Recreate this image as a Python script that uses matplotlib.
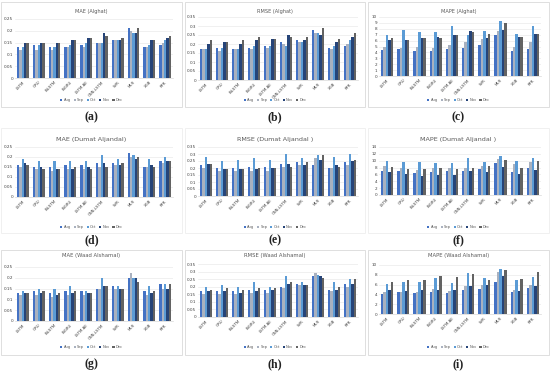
import numpy as np
import matplotlib
matplotlib.use("Agg")
import matplotlib.pyplot as plt
from matplotlib.patches import Rectangle

# models and months
models = ["LSTM", "GRU", "BiLSTM", "BiGRU", "LSTM-AE", "CNN-LSTM", "SVR", "MLR", "XGB", "RFR"]
months = ["Aug", "Sep", "Oct", "Nov", "Dec"]
colors = ["#4472C4", "#A9B1BF", "#5B9BD5", "#264478", "#636363"]

# each row = one model, columns = Aug..Dec
mae_alghat = [[0.13, 0.12, 0.13, 0.15, 0.15], [0.14, 0.12, 0.14, 0.15, 0.15],
              [0.13, 0.12, 0.13, 0.15, 0.15], [0.13, 0.13, 0.14, 0.16, 0.16],
              [0.14, 0.13, 0.15, 0.17, 0.17], [0.15, 0.15, 0.15, 0.19, 0.18],
              [0.16, 0.16, 0.16, 0.16, 0.17], [0.21, 0.20, 0.19, 0.19, 0.21],
              [0.13, 0.13, 0.14, 0.16, 0.16], [0.14, 0.15, 0.16, 0.17, 0.18]]
rmse_alghat = [[0.17, 0.17, 0.17, 0.20, 0.22], [0.18, 0.16, 0.18, 0.21, 0.21],
               [0.17, 0.17, 0.17, 0.20, 0.22], [0.18, 0.17, 0.19, 0.22, 0.24],
               [0.19, 0.18, 0.19, 0.23, 0.23], [0.21, 0.20, 0.19, 0.25, 0.24],
               [0.22, 0.21, 0.21, 0.22, 0.24], [0.28, 0.26, 0.26, 0.25, 0.29],
               [0.18, 0.17, 0.19, 0.21, 0.23], [0.19, 0.20, 0.22, 0.24, 0.26]]
mape_alghat = [[4.4, 5.0, 7.0, 6.1, 6.5], [4.5, 4.7, 7.8, 6.1, 6.1],
               [4.2, 4.9, 7.4, 6.4, 6.4], [4.2, 4.8, 7.4, 6.6, 6.4],
               [4.6, 5.2, 8.5, 6.9, 6.9], [4.8, 5.8, 7.0, 7.6, 7.5],
               [5.2, 6.2, 7.6, 6.5, 7.2], [6.9, 7.6, 9.3, 7.8, 9.0],
               [4.3, 5.0, 7.2, 6.6, 6.6], [4.6, 5.7, 8.4, 7.2, 7.2]]
mae_dumat = [[0.16, 0.15, 0.19, 0.17, 0.16], [0.15, 0.14, 0.18, 0.15, 0.14],
             [0.15, 0.13, 0.18, 0.14, 0.14], [0.16, 0.14, 0.18, 0.14, 0.15],
             [0.16, 0.14, 0.18, 0.15, 0.14], [0.17, 0.15, 0.21, 0.17, 0.15],
             [0.17, 0.16, 0.19, 0.16, 0.17], [0.22, 0.20, 0.21, 0.19, 0.20],
             [0.15, 0.15, 0.19, 0.16, 0.15], [0.18, 0.17, 0.20, 0.18, 0.18]]
rmse_dumat = [[0.22, 0.20, 0.28, 0.23, 0.23], [0.20, 0.18, 0.25, 0.19, 0.19],
              [0.20, 0.18, 0.26, 0.19, 0.19], [0.21, 0.18, 0.27, 0.19, 0.20],
              [0.21, 0.18, 0.26, 0.20, 0.20], [0.23, 0.21, 0.30, 0.23, 0.21],
              [0.24, 0.22, 0.27, 0.22, 0.24], [0.22, 0.27, 0.29, 0.26, 0.29],
              [0.20, 0.20, 0.28, 0.22, 0.21], [0.24, 0.22, 0.30, 0.25, 0.26]]
mape_dumat = [[7.1, 8.5, 9.8, 6.7, 8.2], [6.9, 8.0, 9.6, 6.0, 7.7],
              [6.5, 7.4, 9.6, 5.6, 7.5], [6.7, 7.8, 9.3, 5.8, 7.8],
              [7.1, 7.9, 9.2, 5.9, 7.5], [6.9, 7.9, 10.8, 6.9, 7.9],
              [7.5, 8.5, 9.7, 6.6, 8.5], [9.3, 10.6, 11.4, 8.3, 10.3],
              [6.8, 9.1, 9.9, 6.2, 8.0], [8.0, 9.5, 10.8, 7.2, 9.8]]
mae_waad = [[0.13, 0.12, 0.14, 0.13, 0.13], [0.14, 0.12, 0.15, 0.13, 0.14],
            [0.13, 0.11, 0.15, 0.12, 0.13], [0.14, 0.12, 0.16, 0.13, 0.14],
            [0.14, 0.12, 0.14, 0.13, 0.13], [0.15, 0.15, 0.20, 0.16, 0.16],
            [0.16, 0.15, 0.16, 0.15, 0.15], [0.20, 0.22, 0.20, 0.20, 0.18],
            [0.14, 0.12, 0.16, 0.13, 0.14], [0.17, 0.15, 0.17, 0.15, 0.17]]
rmse_waad = [[0.17, 0.15, 0.20, 0.17, 0.18], [0.17, 0.15, 0.21, 0.17, 0.19],
             [0.17, 0.15, 0.20, 0.16, 0.18], [0.18, 0.16, 0.23, 0.17, 0.19],
             [0.18, 0.16, 0.20, 0.18, 0.19], [0.20, 0.19, 0.27, 0.22, 0.23],
             [0.22, 0.21, 0.23, 0.21, 0.21], [0.27, 0.29, 0.28, 0.27, 0.26],
             [0.18, 0.17, 0.23, 0.18, 0.20], [0.22, 0.20, 0.25, 0.22, 0.25]]
mape_waad = [[4.1, 4.5, 6.2, 4.9, 6.6], [4.4, 4.5, 6.6, 4.7, 7.0],
             [4.2, 4.4, 6.5, 4.9, 7.0], [4.5, 5.1, 7.4, 4.9, 7.8],
             [4.3, 4.7, 6.4, 5.0, 7.5], [5.0, 5.8, 8.3, 5.8, 8.1],
             [5.2, 5.9, 7.3, 5.9, 7.0], [6.6, 8.6, 9.2, 7.7, 9.0],
             [4.5, 4.8, 6.9, 4.7, 7.1], [5.4, 6.0, 7.5, 5.8, 8.5]]

W, H = 550, 372
fig = plt.figure(figsize=(5.5, 3.72), dpi=100)


def box(x0, y0, x1, y1):
    # pixel box (top-left origin) -> figure fraction
    return [x0 / W, 1 - y1 / H, (x1 - x0) / W, (y1 - y0) / H]


def panel(data, title, ticks, frame, plot, label, title_y, leg_y, lab_y, fs=4.0, frame_col="#D9D9D9"):
    # light chart-area frame like in Excel
    fx0, fy0, fx1, fy1 = frame
    fig.patches.append(Rectangle((fx0 / W, 1 - fy1 / H), (fx1 - fx0) / W, (fy1 - fy0) / H,
                                 transform=fig.transFigure, fill=False, ec=frame_col, lw=0.6))
    ax = fig.add_axes(box(*plot))
    vals = np.array(data)
    x = np.arange(len(models))
    bw = 0.15
    for i, m in enumerate(months):
        ax.bar(x + (i - 2) * bw, vals[:, i], bw, color=colors[i], label=m, zorder=3)
    ax.set_ylim(ticks[0], ticks[-1])
    ax.set_yticks(ticks)
    ax.set_yticklabels([f"{t:g}" for t in ticks], fontsize=3, color="#404040")
    ax.set_xlim(-0.5, len(models) - 0.5)
    ax.set_xticks(x)
    ax.set_xticklabels(models, rotation=45, ha="right", rotation_mode="anchor",
                       fontsize=2.8, color="#404040")
    ax.tick_params(length=0, pad=1.5)
    ax.grid(axis="y", color="#E5E5E5", lw=0.4, zorder=0)
    for s in ["top", "right", "left"]:
        ax.spines[s].set_visible(False)
    ax.spines["bottom"].set_color("#D9D9D9")
    ax.spines["bottom"].set_linewidth(0.5)
    cx = (fx0 + fx1) / 2 / W
    fig.text(cx, 1 - title_y / H, title, ha="center", va="center", fontsize=fs, color="#595959")
    handles, labels = ax.get_legend_handles_labels()
    fig.legend(handles, labels, loc="center", bbox_to_anchor=(cx, 1 - leg_y / H), ncol=5,
               fontsize=2.6, frameon=False, handlelength=0.6, handleheight=0.6,
               handletextpad=0.3, columnspacing=0.8, labelcolor="#595959")
    fig.text(cx, 1 - lab_y / H, label, ha="center", va="center", fontsize=8.5,
             family="Liberation Serif", weight="bold", color="#222222")


t25 = [0, 0.05, 0.1, 0.15, 0.2, 0.25]
t35 = [0, 0.05, 0.1, 0.15, 0.2, 0.25, 0.3, 0.35]
t10 = list(range(11))
t14 = list(range(0, 15, 2))
t10b = list(range(0, 11, 2))

# row 1
panel(mae_alghat, "MAE (Alghat)", t25, (1, 2, 182, 107), (15, 19, 173, 78), "(a)", 11, 100, 117, 3.6)
panel(rmse_alghat, "RMSE (Alghat)", t35, (185, 2, 365, 107), (198, 17, 358, 80), "(b)", 11, 100, 117, 3.6)
panel(mape_alghat, "MAPE (Alghat)", t10, (368, 2, 549, 107), (379, 17, 541, 76), "(c)", 11, 100, 117, 3.6)
# row 2
panel(mae_dumat, "MAE (Dumat Aljandal)", t25, (1, 128, 182, 233), (15, 147, 173, 197), "(d)", 139, 227, 240, 4.6, "#EEEEEE")
panel(rmse_dumat, "RMSE (Dumat Aljandal )", t35, (185, 128, 365, 233), (198, 147, 358, 196), "(e)", 139, 227, 240, 4.6, "#EEEEEE")
panel(mape_dumat, "MAPE (Dumat Aljandal )", t14, (368, 128, 549, 233), (379, 147, 541, 195), "(f)", 139, 227, 240, 4.6, "#EEEEEE")
# row 3
panel(mae_waad, "MAE (Waad Alshamal)", t25, (1, 250, 182, 355), (15, 267, 173, 321), "(g)", 255, 347, 364, 3.8)
panel(rmse_waad, "RMSE (Waad Alshamal)", t35, (185, 250, 365, 355), (198, 264, 358, 317), "(h)", 255, 347, 364, 3.8)
panel(mape_waad, "MAPE (Waad Alshamal)", t10b, (368, 250, 549, 355), (379, 265, 541, 314), "(i)", 255, 347, 364, 3.8)

fig.savefig("out.png", dpi=100)
